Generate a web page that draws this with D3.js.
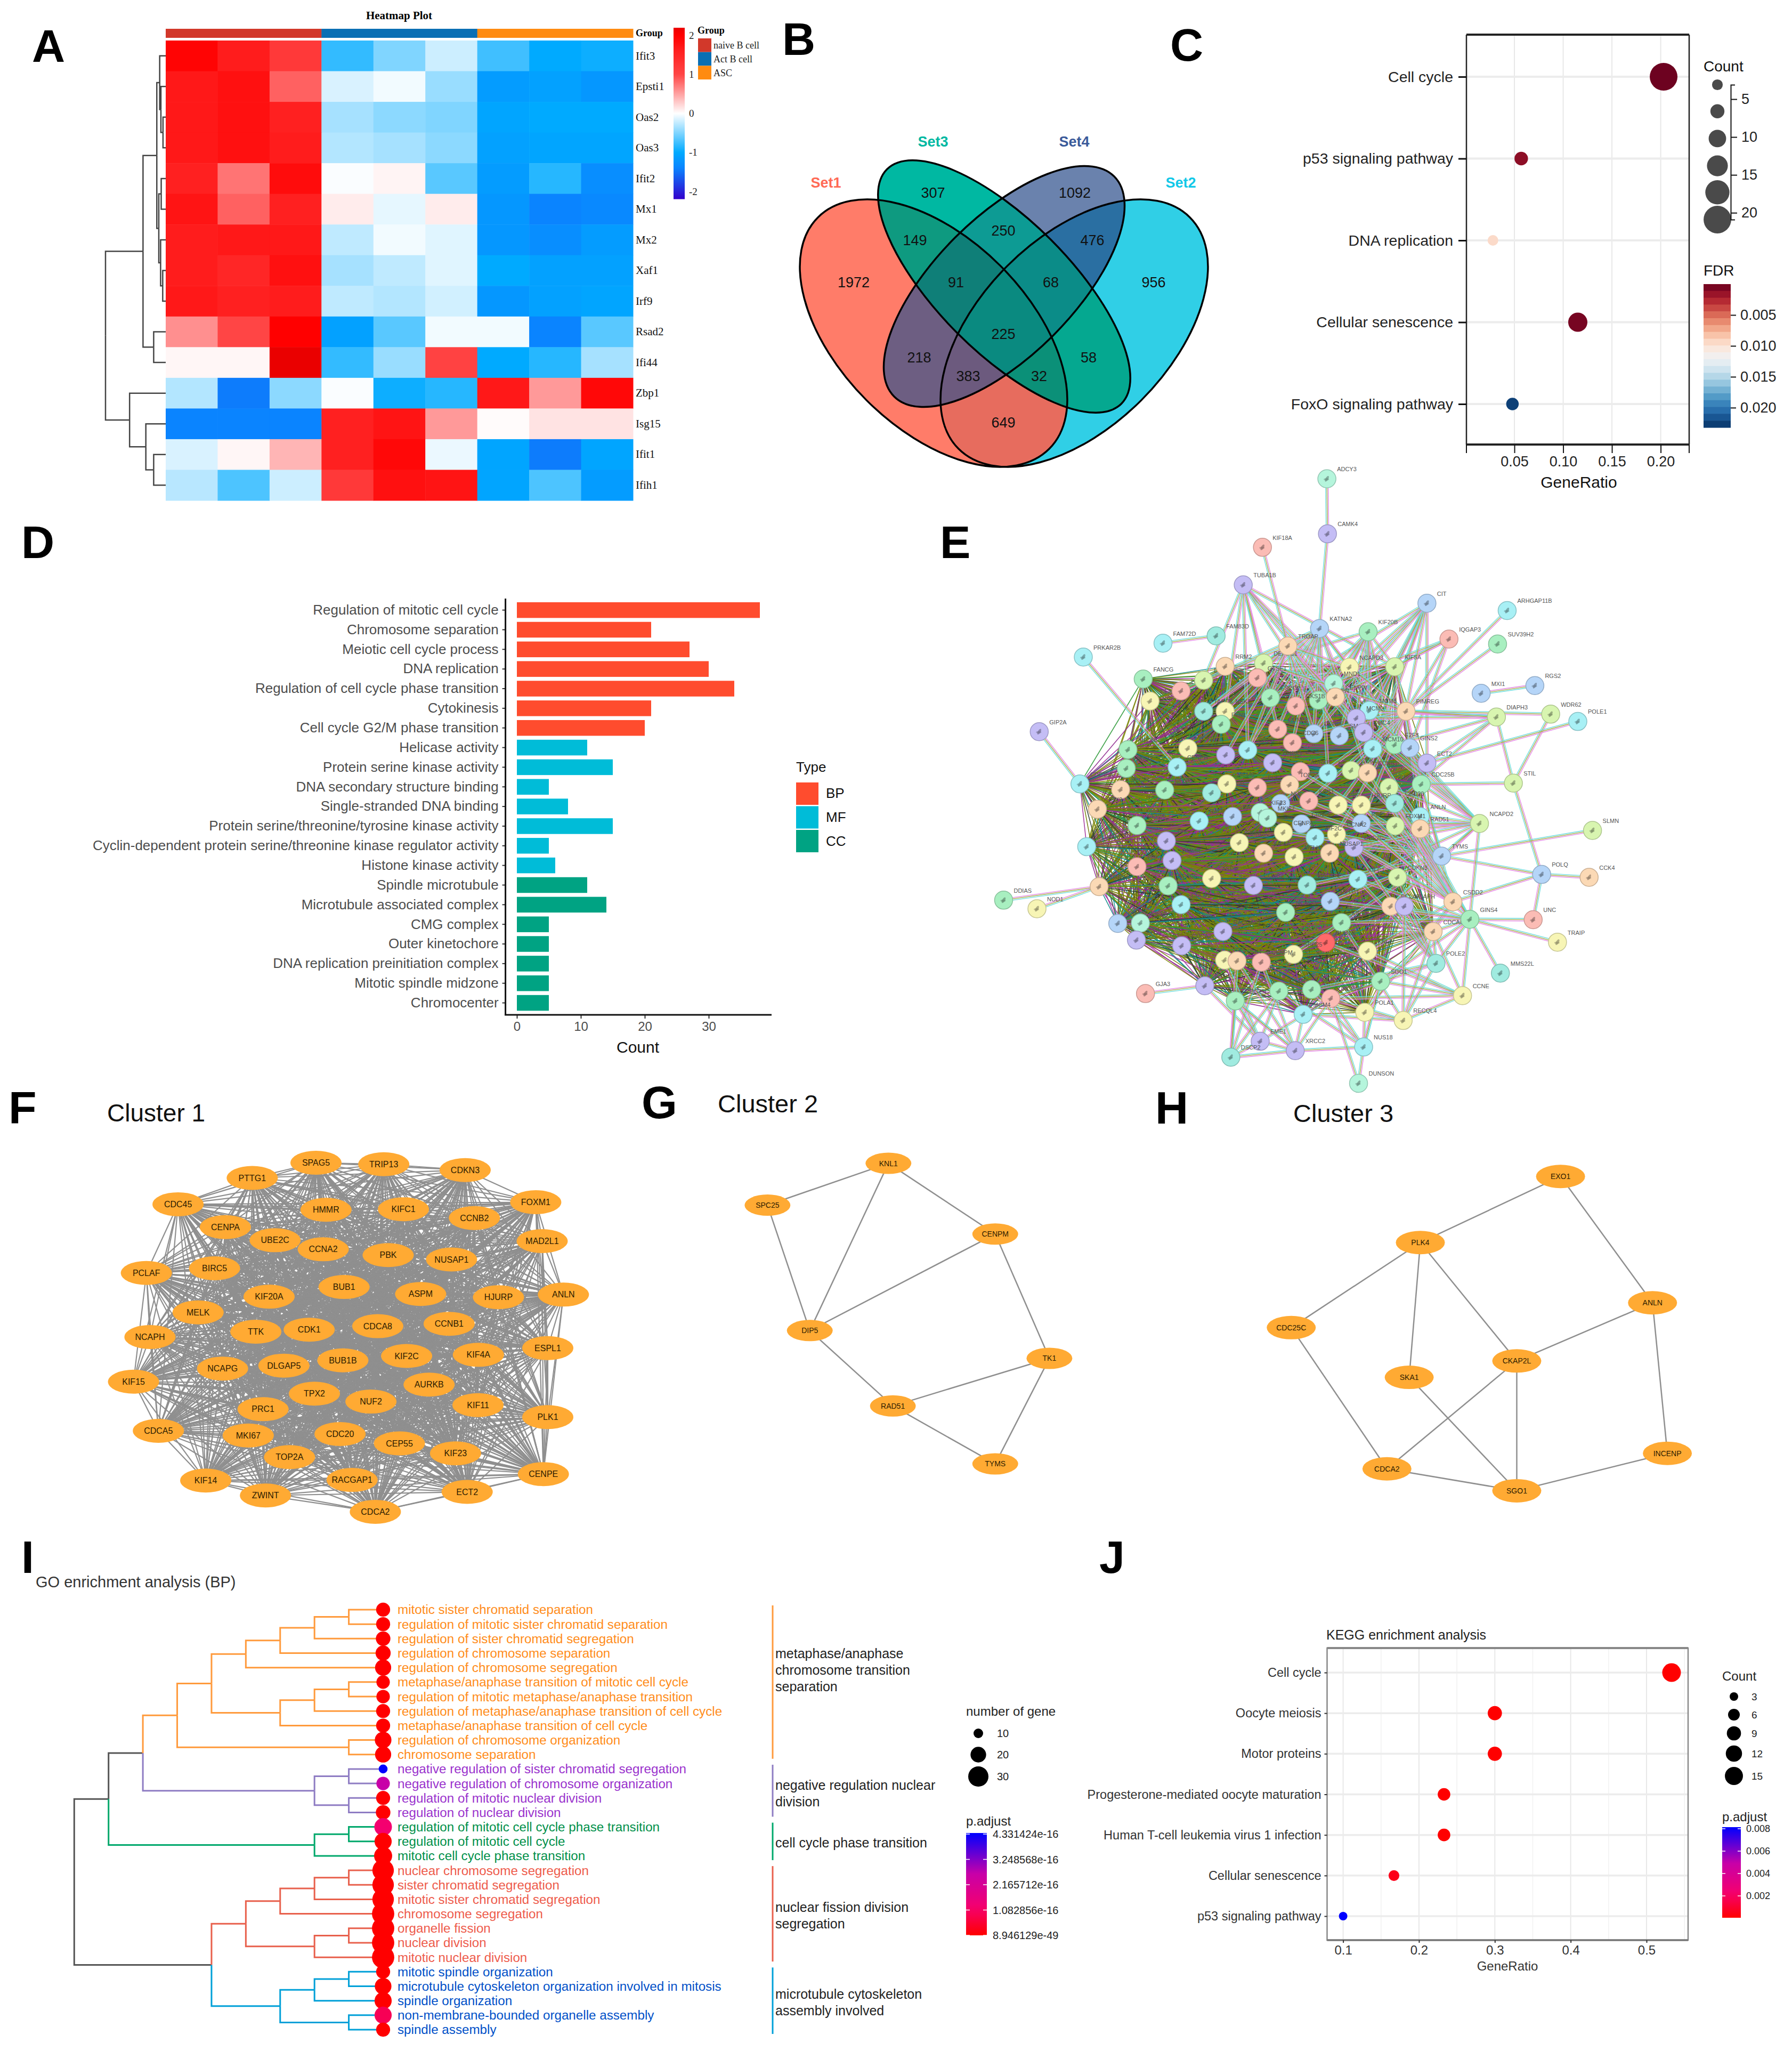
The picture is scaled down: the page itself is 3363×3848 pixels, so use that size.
<!DOCTYPE html>
<html><head><meta charset="utf-8">
<script src="https://cdn.jsdelivr.net/npm/d3@7"></script>
<style>html,body{margin:0;padding:0;background:#fff}svg{display:block}</style></head>
<body><script>
// ---------- A heatmap ----------
const heatGenes=["Ifit3","Epsti1","Oas2","Oas3","Ifit2","Mx1","Mx2","Xaf1","Irf9","Rsad2","Ifi44","Zbp1","Isg15","Ifit1","Ifih1"];
const heatSamples=["n1","n2","n3","a1","a2","a3","s1","s2","s3"];
const heatGroups=["naive B cell","Act B cell","ASC"];
const heatValues=[
[1.95,1.65,1.2,-0.8,-0.5,-0.2,-0.75,-1.0,-0.95],
[1.7,1.8,0.85,-0.15,-0.05,-0.4,-1.15,-1.1,-1.2],
[1.7,1.8,1.6,-0.35,-0.45,-0.5,-1.05,-1.0,-1.0],
[1.7,1.8,1.65,-0.3,-0.35,-0.45,-1.1,-1.05,-1.05],
[1.6,0.75,1.85,-0.02,0.06,-0.65,-1.15,-0.85,-1.3],
[1.75,0.85,1.6,0.1,-0.1,0.1,-1.2,-1.4,-1.35],
[1.65,1.7,1.7,-0.25,-0.05,-0.12,-1.2,-1.3,-1.15],
[1.65,1.5,1.8,-0.35,-0.25,-0.12,-1.0,-1.1,-1.1],
[1.7,1.6,1.65,-0.25,-0.3,-0.18,-1.2,-1.1,-1.05],
[0.6,1.0,2.0,-1.1,-0.65,-0.05,-0.05,-1.4,-0.65],
[0.05,0.05,2.2,-0.8,-0.4,1.05,-1.0,-0.85,-0.35],
[-0.3,-1.45,-0.45,-0.02,-0.95,-0.85,1.7,0.55,1.9],
[-1.4,-1.4,-1.4,1.6,1.75,0.55,0.02,0.15,0.15],
[-0.15,0.05,0.4,1.6,1.9,-0.08,-1.05,-1.45,-1.05],
[-0.28,-0.7,-0.2,1.2,1.8,1.75,-1.05,-0.7,-1.15]];
const heatTree=[1,[0.377,[0.148,[0.1,"Ifit3",[0.08,"Epsti1",[0.045,"Oas2","Oas3"]]],[0.115,[0.075,"Ifit2","Mx1"],[0.085,"Mx2",[0.05,"Xaf1","Irf9"]]]],[0.2,"Rsad2","Ifi44"]],[0.6,"Zbp1",[0.33,"Isg15",[0.2,"Ifit1","Ifih1"]]]];
// ---------- B venn ----------
const vennSets=["Set1","Set2","Set3","Set4"];
const vennCounts=[["1",1972],["2",956],["3",307],["4",1092],["13",149],["34",250],["24",476],["134",91],["234",68],["1234",225],["14",218],["23",58],["124",383],["123",32],["12",649]];
// ---------- C dot plot ----------
const cTerms=["Cell cycle","p53 signaling pathway","DNA replication","Cellular senescence","FoxO signaling pathway"];
const cRatio=[0.203,0.057,0.028,0.115,0.048];
const cCount=[21,6,3,12,5];
const cFdr=[0.0002,0.0012,0.0095,0.0005,0.0225];
const cCountTicks=[5,10,15,20];
const cCountLegend=[3.1,6.6,10.2,13.8,17.3,20.9];
const cFdrTicks=[0.005,0.01,0.015,0.02];
// ---------- D bars ----------
const dTerms=["Regulation of mitotic cell cycle","Chromosome separation","Meiotic cell cycle process","DNA replication","Regulation of cell cycle phase transition","Cytokinesis","Cell cycle G2/M phase transition","Helicase activity","Protein serine kinase activity","DNA secondary structure binding","Single-stranded DNA binding","Protein serine/threonine/tyrosine kinase activity","Cyclin-dependent protein serine/threonine kinase regulator activity","Histone kinase activity","Spindle microtubule","Microtubule associated complex","CMG complex","Outer kinetochore","DNA replication preinitiation complex","Mitotic spindle midzone","Chromocenter"];
const dCounts=[38,21,27,30,34,21,20,11,15,5,8,15,5,6,11,14,5,5,5,5,5];
const dTypes=["BP","BP","BP","BP","BP","BP","BP","MF","MF","MF","MF","MF","MF","MF","CC","CC","CC","CC","CC","CC","CC"];
const dTypeNames=["BP","MF","CC"];
// ---------- E STRING network (positions in picture units) ----------
const eOuter=[["ADCY3",745,50,"m"],["CAMK4",746,185,"p"],["KIF18A",631,218,"k"],["TUBA1B",597,310,"p"],["CIT",922,355,"b"],["ARHGAP11B",1064,373,"c"],["KIF20B",818,425,"g"],["KATNA2",732,417,"b"],["IQGAP3",961,443,"k"],["SUV39H2",1047,455,"g"],["FAM83D",549,435,"t"],["FAM72D",455,453,"c"],["PRKAR2B",314,487,"c"],["TROAP",676,460,"e"],["MXI1",1018,576,"b"],["RGS2",1113,557,"b"],["PIMREG",885,620,"e"],["DIAPH3",1045,634,"l"],["WDR62",1141,627,"l"],["POLE1",1189,645,"c"],["GIP2A",236,670,"p"],["STIL",1075,796,"l"],["NCAPD2",1015,895,"l"],["TYMS",948,975,"b"],["SLMN",1215,912,"l"],["POLQ",1125,1020,"b"],["CCK4",1209,1027,"e"],["UNC",1110,1131,"k"],["TRAIP",1153,1186,"y"],["CSDD2",968,1087,"e"],["GINS4",998,1130,"g"],["MMS22L",1052,1262,"t"],["CCNE",985,1317,"y"],["POLE2",938,1238,"t"],["RECQL4",880,1378,"y"],["NUS18",810,1443,"c"],["DUNSON",801,1532,"m"],["XRCC2",689,1452,"p"],["EME1",627,1429,"p"],["DSCP2",575,1468,"t"],["GJA3",424,1312,"k"],["DDIAS",173,1083,"g"],["NOD1",232,1104,"y"]];
const eCore=[["FANCG",420,541,"g"],["CENPK",432,595,"y"],["HMGB2",487,570,"k"],["DTL",527,544,"l"],["RRM2",565,510,"e"],["DEPDC1",633,502,"l"],["GTSE1",622,538,"k"],["NCAPD3",785,512,"y"],["KIF5A",865,511,"l"],["MND1",757,552,"m"],["ESCO2",645,587,"g"],["CENPN",730,593,"g"],["CENPW",760,585,"e"],["CKS1B",690,607,"k"],["MCM5",820,618,"c"],["MCM2",797,637,"p"],["TACC3",527,620,"t"],["NEK2",565,620,"y"],["FEN1",558,652,"g"],["CCNE2",658,664,"k"],["CENPF",722,675,"b"],["SMC2",767,680,"b"],["SMC4",810,672,"p"],["CDC6",684,697,"k"],["E2F8",865,702,"g"],["GINS2",892,710,"b"],["MCM10",826,712,"c"],["TCF19",499,711,"y"],["KIF18B",393,714,"g"],["SKA3",566,727,"p"],["ORC6",605,715,"c"],["ECT2",922,747,"p"],["SGO2",390,760,"g"],["CENPH",480,757,"c"],["CHEK1",649,746,"p"],["AURKB",698,768,"k"],["BUB1",747,772,"c"],["CDK1",788,765,"l"],["CCNB1",817,771,"e"],["CDC25A",308,798,"c"],["SPC24",380,812,"e"],["CENPI",458,813,"g"],["ZWILCH",541,820,"t"],["MCM6",568,798,"y"],["PLK1",622,807,"k"],["TOP2A",679,800,"e"],["CDC7",855,807,"l"],["CDC25B",912,799,"g"],["TPX2",339,860,"e"],["NUF2",663,846,"b"],["KIF11",713,840,"k"],["PRC1",765,850,"y"],["HJURP",806,850,"y"],["CDC20",865,846,"t"],["CEP55",409,900,"g"],["RAD54L",519,889,"c"],["BRCA1",578,878,"b"],["KIF23",627,868,"m"],["MKI67",640,882,"m"],["ANLN",910,878,"c"],["RAD51",910,908,"e"],["CENPE",700,896,"b"],["ESPL1",806,895,"b"],["FOXM1",866,901,"l"],["CENPA",668,917,"y"],["CCNA2",762,922,"y"],["DLGAP5",320,952,"c"],["TTK",461,938,"p"],["BIRC5",590,942,"y"],["KIF2C",724,930,"c"],["UBE2C",793,954,"p"],["KIF4A",633,968,"e"],["MELK",687,977,"y"],["NUSAP1",750,968,"e"],["PBK",409,1001,"k"],["HMMR",471,986,"p"],["ASPM",541,1030,"y"],["CCNB2",615,1047,"p"],["MAD2L1",710,1046,"t"],["KIFC1",800,1032,"c"],["CDKN3",870,1027,"l"],["TRIP13",342,1050,"e"],["SPAG5",464,1048,"g"],["PTTG1",751,1086,"b"],["CDC45",487,1094,"c"],["PCLAF",858,1098,"e"],["NCAPH",882,1098,"p"],["NCAPG",672,1113,"g"],["KIF15",771,1138,"g"],["CDCA5",375,1140,"b"],["KIF14",415,1139,"m"],["ZWINT",408,1181,"p"],["RACGAP1",561,1160,"p"],["CDCA2",488,1195,"p"],["BUB1B",743,1187,"r"],["CDCA8",933,1160,"e"],["KNL1",817,1208,"y"],["SPC25",686,1216,"y"],["CENPM",629,1235,"k"],["TK1",564,1230,"y"],["PLK4",586,1232,"e"],["EXO1",529,1293,"p"],["CDC25C",583,1330,"g"],["CKAP2L",660,1306,"g"],["SKA1",718,1302,"g"],["INCENP",752,1324,"k"],["SGO1",840,1282,"g"],["POLA1",812,1358,"y"],["MCM4",703,1363,"c"]];
const eOuterPairs=[["ADCY3","CAMK4"],["CAMK4","KATNA2"],["KIF18A","TROAP"],["FAM83D","FAM72D"],["MXI1","RGS2"],["DDIAS","TRIP13"],["NOD1","TRIP13"],["CCK4","POLQ"],["UNC","POLQ"],["UNC","GINS4"],["TRAIP","GINS4"],["STIL","POLQ"],["STIL","DIAPH3"],["WDR62","STIL"],["WDR62","PIMREG"],["DIAPH3","PIMREG"],["POLE1","ECT2"],["STIL","CDC25B"],["SLMN","TYMS"],["POLQ","TYMS"],["POLQ","CSDD2"],["GINS4","NCAPD2"],["MMS22L","GINS4"],["CCNE","GINS4"],["POLE2","GINS4"],["RECQL4","CCNE"],["RECQL4","POLE2"],["NUS18","DUNSON"],["NUS18","XRCC2"],["XRCC2","DSCP2"],["EME1","DSCP2"],["EME1","XRCC2"],["DSCP2","CDC25C"],["EME1","CDC25C"],["XRCC2","CDC25C"],["NUS18","SGO1"],["NUS18","INCENP"],["DUNSON","INCENP"],["CCNE","SGO1"],["GJA3","EXO1"],["GIP2A","CDC25A"],["PRKAR2B","CENPH"],["IQGAP3","PIMREG"],["NCAPD2","TYMS"],["CIT","PIMREG"],["SUV39H2","PIMREG"],["ARHGAP11B","PIMREG"]];
const eOuterFans=[["TUBA1B",10,3],["CIT",10,2],["KIF20B",14,1],["KATNA2",16,2],["IQGAP3",4,3],["TROAP",14,2],["PIMREG",14,3],["DIAPH3",5,3],["TYMS",16,3],["NCAPD2",14,2],["CSDD2",14,2],["GINS4",10,2],["POLE2",8,2],["CCNE",4,3],["RECQL4",6,2],["NUS18",4,2],["XRCC2",5,2],["EME1",5,2],["DSCP2",4,2]];
// ---------- F G H clusters (positions in picture units) ----------
const f1Nodes=[["SPAG5",788,258],["TRIP13",957,263],["CDKN3",1160,283],["PTTG1",629,310],["FOXM1",1336,393],["CDC45",444,400],["HMMR",813,419],["KIFC1",1006,417],["CCNB2",1183,447],["CENPA",562,478],["UBE2C",686,523],["MAD2L1",1352,526],["CCNA2",806,554],["PBK",968,574],["NUSAP1",1126,589],["BIRC5",535,619],["PCLAF",365,635],["BUB1",858,683],["KIF20A",671,716],["ASPM",1049,707],["HJURP",1243,718],["ANLN",1405,709],["MELK",494,770],["TTK",638,836],["CDK1",771,829],["CDCA8",942,817],["CCNB1",1120,809],["NCAPH",374,854],["ESPL1",1366,892],["KIF2C",1014,919],["KIF4A",1193,915],["BUB1B",855,934],["DLGAP5",708,952],["NCAPG",555,962],["KIF15",333,1007],["AURKB",1070,1017],["TPX2",784,1048],["NUF2",925,1075],["KIF11",1192,1087],["PRC1",656,1101],["PLK1",1366,1128],["CDCA5",395,1175],["MKI67",619,1191],["CDC20",848,1186],["CEP55",996,1218],["KIF23",1136,1252],["TOP2A",722,1265],["CENPE",1355,1323],["KIF14",513,1345],["RACGAP1",878,1343],["ECT2",1165,1384],["ZWINT",662,1396],["CDCA2",936,1452]];
const g2Nodes=[["KNL1",350,260],["SPC25",187,403],["CENPM",494,502],["DIP5",244,832],["TK1",567,927],["RAD51",356,1090],["TYMS",494,1288]];
const g2Edges=[["KNL1","SPC25"],["KNL1","DIP5"],["KNL1","CENPM"],["SPC25","DIP5"],["CENPM","DIP5"],["CENPM","TK1"],["DIP5","RAD51"],["RAD51","TK1"],["TK1","TYMS"],["RAD51","TYMS"]];
const h3Nodes=[["EXO1",1256,305],["PLK4",1067,531],["ANLN",1380,737],["CDC25C",893,822],["CKAP2L",1197,936],["SKA1",1052,992],["INCENP",1400,1252],["CDCA2",1022,1305],["SGO1",1197,1380]];
const h3Edges=[["EXO1","PLK4"],["EXO1","ANLN"],["PLK4","CDC25C"],["PLK4","SKA1"],["PLK4","CKAP2L"],["ANLN","CKAP2L"],["ANLN","INCENP"],["CDC25C","CDCA2"],["CKAP2L","CDCA2"],["CKAP2L","SGO1"],["SKA1","SGO1"],["CDCA2","SGO1"],["INCENP","SGO1"]];
// ---------- I GO tree ----------
const iTerms=["mitotic sister chromatid separation","regulation of mitotic sister chromatid separation","regulation of sister chromatid segregation","regulation of chromosome separation","regulation of chromosome segregation","metaphase/anaphase transition of mitotic cell cycle","regulation of mitotic metaphase/anaphase transition","regulation of metaphase/anaphase transition of cell cycle","metaphase/anaphase transition of cell cycle","regulation of chromosome organization","chromosome separation","negative regulation of sister chromatid segregation","negative regulation of chromosome organization","regulation of mitotic nuclear division","regulation of nuclear division","regulation of mitotic cell cycle phase transition","regulation of mitotic cell cycle","mitotic cell cycle phase transition","nuclear chromosome segregation","sister chromatid segregation","mitotic sister chromatid segregation","chromosome segregation","organelle fission","nuclear division","mitotic nuclear division","mitotic spindle organization","microtubule cytoskeleton organization involved in mitosis","spindle organization","non-membrane-bounded organelle assembly","spindle assembly"];
const iGenes=[17,17,18,19,21,16,16,17,17,22,21,9,16,17,18,24,23,25,33,33,33,35,35,35,35,17,22,23,23,17];
const iPadj=[0,0,0,0,0,0,0,0,0,0,0,4.33,2.6,0,0,1.2,0,0,0,0,0,0,0,0,0,0,0,0,0.9,0];
const iOrange=[6,[5,[4,[3,[2,[1,0,1],2],3],4],[3,[2,[1,5,6],7],8]],[1,9,10]];
const iPurple=[2,[1,11,12],[1,13,14]];
const iGreen=[2,[1,15,16],17];
const iRed=[4,[3,[2,[1,18,19],20],21],[2,[1,22,23],24]];
const iBlue=[3,[2,[1,25,26],27],[1,28,29]];
const iRoot=[9,[8,[7,iOrange,iPurple],iGreen],[5,iRed,iBlue]];
const iClades=[["metaphase/anaphase","chromosome transition","separation"],["negative regulation nuclear","division"],["cell cycle phase transition"],["nuclear fission division","segregation"],["microtubule cytoskeleton","assembly involved"]];
const iGeneLegend=[10,20,30];
const iPadjTicks=[["4.331424e-16",4.331424],["3.248568e-16",3.248568],["2.165712e-16",2.165712],["1.082856e-16",1.082856],["8.946129e-49",0]];
// ---------- J dot plot ----------
const jTerms=["Cell cycle","Oocyte meiosis","Motor proteins","Progesterone-mediated oocyte maturation","Human T-cell leukemia virus 1 infection","Cellular senescence","p53 signaling pathway"];
const jRatio=[0.533,0.3,0.3,0.233,0.233,0.167,0.1];
const jCount=[16,9,9,7,7,5,3];
const jPadj=[0,0,0,0,0,0.0005,0.008];
const jCountLegend=[3,6,9,12,15];
const jPadjTicks=[0.008,0.006,0.004,0.002];
const panelLetters=[["A",60,116],["B",1468,103],["C",2196,114],["D",40,1047],["E",1764,1047],["F",16,2108],["G",1204,2098],["H",2168,2108],["I",40,2951],["J",2063,2951]];

const SANS='"Liberation Sans",Arial,sans-serif',SERIF='"Liberation Serif",serif';
const svg=d3.select("body").append("svg").attr("width",3363).attr("height",3848).attr("viewBox","0 0 3363 3848");
svg.append("rect").attr("width",3363).attr("height",3848).attr("fill","#fff");
const defs=svg.append("defs");
function T(g,x,y,s,o={}){return g.append("text").attr("x",x).attr("y",y).attr("dy",".35em").attr("text-anchor",o.a||"start").attr("font-size",o.s||24).attr("font-weight",o.w||400).attr("fill",o.f||"#000").attr("font-family",o.ff||SANS).text(s);}
function styleAxis(sel,o={}){sel.selectAll("text").attr("font-size",o.s||24).attr("font-family",o.ff||SANS).attr("font-weight",o.w||400).attr("fill",o.f||"#333");sel.selectAll("line").attr("stroke",o.l||"#333").attr("stroke-width",o.lw||2);if(o.noDomain)sel.select(".domain").remove();else sel.select(".domain").attr("stroke",o.l||"#333").attr("stroke-width",o.lw||2);}
function vGrad(id,scale,tops){const g=defs.append("linearGradient").attr("id",id).attr("x1",0).attr("y1",0).attr("x2",0).attr("y2",1);tops.forEach((v,i)=>g.append("stop").attr("offset",i/(tops.length-1)).attr("stop-color",scale(v)));}
const L=(g,x1,y1,x2,y2,c,w)=>g.append("line").attr("x1",x1).attr("y1",y1).attr("x2",x2).attr("y2",y2).attr("stroke",c).attr("stroke-width",w);
const padjRamp=d3.scaleLinear([0,0.27,0.6,1],["#ff0000","#f5006e","#c800a8","#0000ff"]);

panelLetters.forEach(d=>svg.append("text").attr("x",d[1]).attr("y",d[2]).attr("font-size",86).attr("font-weight",700).attr("font-family",SANS).attr("fill","#000").text(d[0]));

// ===== A =====
(function(){
const g=svg.append("g");
const x=d3.scaleBand(heatSamples,[311,1188]),y=d3.scaleBand(heatGenes,[76,939]);
const col=d3.scaleLinear().domain([-2.2,-1.4,-1,0,1,1.6,2,2.2]).range(["#3300cc","#0a84ff","#00aaff","#ffffff","#ff4545","#ff2020","#ff0000","#ea0000"]).clamp(true);
heatValues.forEach((row,i)=>row.forEach((v,j)=>g.append("rect").attr("x",x(heatSamples[j])).attr("y",y(heatGenes[i])).attr("width",x.bandwidth()+.5).attr("height",y.bandwidth()+.5).attr("fill",col(v))));
const gc=["#D2382A","#0A6FB4","#FF8B11"];
gc.forEach((c,i)=>g.append("rect").attr("x",x(heatSamples[i*3])).attr("y",54).attr("width",3*x.bandwidth()+.5).attr("height",17).attr("fill",c));
T(g,749,29,"Heatmap Plot",{a:"middle",s:21,w:700,ff:SERIF});
T(g,1193,62,"Group",{s:18,w:700,ff:SERIF});
const ax=g.append("g").attr("transform","translate(1188,0)").call(d3.axisRight(y).tickSize(0).tickPadding(5));
styleAxis(ax,{s:21,ff:SERIF,f:"#111",noDomain:true});
const dx=d3.scaleLinear([0,1],[311,198]);
const root=d3.hierarchy(heatTree,d=>Array.isArray(d)?d.slice(1):null);
root.eachAfter(n=>{if(n.children){n.px=dx(n.data[0]);n.py=(n.children[0].py+n.children[n.children.length-1].py)/2;}else{n.px=dx(0);n.py=y(n.data)+y.bandwidth()/2;}});
root.descendants().slice(1).forEach(n=>g.append("path").attr("fill","none").attr("stroke","#444").attr("stroke-width",2.5).attr("d",`M${n.parent.px},${n.parent.py}V${n.py}H${n.px}`));
const ly=d3.scaleLinear([2,-2],[66,359]);
vGrad("heatG",col,d3.range(2.2,-2.21,-0.2));
g.append("rect").attr("x",1264).attr("y",ly(2.19)).attr("width",21).attr("height",ly(-2.2)-ly(2.19)).attr("fill","url(#heatG)");
[2,1,0,-1,-2].forEach(v=>T(g,1293,ly(v),v,{s:19,ff:SERIF,f:"#222"}));
T(g,1309,57,"Group",{s:18,w:700,ff:SERIF});
heatGroups.forEach((n,i)=>{g.append("rect").attr("x",1310).attr("y",72+i*25.7).attr("width",25).attr("height",25.7).attr("fill",gc[i]);T(g,1339,85+i*25.7,n,{s:18,ff:SERIF,f:"#222"});});
})();

// ===== B =====
(function(){
const g=svg.append("g");
const ell=[{cx:1752,cy:625,a:307,b:178,r:45},{cx:2016,cy:625,a:307,b:178,r:-45},{cx:1884.5,cy:537.5,a:311,b:124,r:45},{cx:1884.5,cy:537.5,a:292,b:130,r:-45}];
const regionColors={"1":"#FF7C69","2":"#30CFE6","3":"#00B8A2","4":"#6A82AD","13":"#0E9A80","34":"#0D9B94","24":"#2A6FA2","12":"#E76C5E","14":"#6D5E82","23":"#05A890","134":"#0F7F78","234":"#0B8C88","124":"#6C5A7E","123":"#0B9078","1234":"#0A8A80"};
const pos={"1":[1602,530],"2":[2165,530],"3":[1751,362],"4":[2017,362],"13":[1717,451],"34":[1883,433],"24":[2050,451],"134":[1794,530],"234":[1972,530],"1234":[1883,627],"14":[1725,671],"23":[2043,671],"124":[1817,706],"123":[1950,706],"12":[1883,793]};
const addE=(s,e)=>s.append("ellipse").attr("cx",e.cx).attr("cy",e.cy).attr("rx",e.a).attr("ry",e.b).attr("transform",`rotate(${e.r} ${e.cx} ${e.cy})`);
ell.forEach((e,i)=>addE(defs.append("clipPath").attr("id","vc"+(i+1)),e));
Object.keys(regionColors).sort((a,b)=>a.length-b.length).forEach(k=>{let p=g;k.split("").forEach(c=>{p=p.append("g").attr("clip-path",`url(#vc${c})`);});p.append("rect").attr("x",1450).attr("y",280).attr("width",860).attr("height",620).attr("fill",regionColors[k]);});
ell.forEach(e=>addE(g,e).attr("fill","none").attr("stroke","#000").attr("stroke-width",3.5));
vennCounts.forEach(d=>T(g,pos[d[0]][0],pos[d[0]][1],d[1],{a:"middle",s:27,f:"#111"}));
[["Set1",1550,343,"#FF6A55"],["Set2",2216,343,"#12C8E8"],["Set3",1751,266,"#00B8A2"],["Set4",2016,266,"#3A5A9A"]].forEach(d=>T(g,d[1],d[2],d[0],{a:"middle",s:27,w:700,f:d[3]}));
})();

// ===== C =====
(function(){
const g=svg.append("g");
const x=d3.scaleLinear([0.0008,0.2292],[2752,3170]),y=d3.scalePoint(cTerms,[144,758]);
const r=d3.scaleLinear([3,21],[10,26]);
const col=d3.scaleLinear([0,0.0232],[0,1]);
const fdr=v=>d3.interpolateRdBu(col(v));
[0.05,0.1,0.15,0.2].forEach(v=>L(g,x(v),66,x(v),834,"#e8e8e8",2));
cTerms.forEach(t=>L(g,2752,y(t),3170,y(t),"#ececec",4));
cTerms.forEach((t,i)=>g.append("circle").attr("cx",x(cRatio[i])).attr("cy",y(t)).attr("r",r(cCount[i])).attr("fill",fdr(cFdr[i])));
L(g,2752,65,3170,65,"#222",4);L(g,2752,834,3170,834,"#222",4);L(g,2752,65,2752,834,"#222",2.5);L(g,3170,65,3170,834,"#222",2.5);
const ay=g.append("g").attr("transform","translate(2752,0)").call(d3.axisLeft(y).tickSize(15).tickPadding(10));
styleAxis(ay,{s:28.5,f:"#222",l:"#111",lw:3,noDomain:true});
const ax=g.append("g").attr("transform","translate(0,834)").call(d3.axisBottom(x).tickValues([0.05,0.1,0.15,0.2]).tickFormat(d3.format(".2f")).tickSize(16).tickPadding(6));
styleAxis(ax,{s:27,f:"#222",l:"#111",lw:2,noDomain:true});
L(g,2752,834,2752,850,"#111",2);L(g,3170,834,3170,850,"#111",2);
T(g,2963,904,"GeneRatio",{a:"middle",s:30,f:"#111"});
T(g,3197,124,"Count",{s:28,f:"#111"});
const ly=d3.scaleLinear([3.1,20.9],[159,412]);
cCountLegend.forEach(v=>g.append("circle").attr("cx",3223).attr("cy",ly(v)).attr("r",r(v)).attr("fill","#4a4a4a"));
const al=g.append("g").attr("transform","translate(3248,0)").call(d3.axisRight(ly).tickValues(cCountTicks).tickSize(12).tickSizeOuter(8).tickPadding(8));
styleAxis(al,{s:27,f:"#222",l:"#111",lw:2});
T(g,3197,507,"FDR",{s:28,f:"#111"});
const fy=d3.scaleLinear([0,0.0232],[533,802]);
const bands=d3.range(0,21);
bands.forEach(b=>g.append("rect").attr("x",3197).attr("y",fy(b/21*0.0232)).attr("width",51).attr("height",fy(0.0232/21)-fy(0)+.6).attr("fill",fdr((b+.5)/21*0.0232)));
const af=g.append("g").attr("transform","translate(3248,0)").call(d3.axisRight(fy).tickValues(cFdrTicks).tickFormat(d3.format(".3f")).tickSize(10).tickSizeOuter(6).tickPadding(8));
styleAxis(af,{s:27,f:"#222",l:"#111",lw:2,noDomain:true});
})();

// ===== D =====
(function(){
const g=svg.append("g");
const x=d3.scaleLinear([0,40],[970,1450]);
const y=d3.scaleBand(dTerms,[1126.2,1900]).paddingInner(.2).paddingOuter(.1);
const col=d3.scaleOrdinal(dTypeNames,["#FF4C2E","#00BCD8","#00A383"]);
dTerms.forEach((t,i)=>g.append("rect").attr("x",x(0)).attr("y",y(t)).attr("width",x(dCounts[i])-x(0)).attr("height",y.bandwidth()).attr("fill",col(dTypes[i])));
const ay=g.append("g").attr("transform","translate(948.6,0)").call(d3.axisLeft(y).tickSize(6).tickPadding(7));
styleAxis(ay,{s:26,f:"#4d4d4d",l:"#333",lw:2,noDomain:true});
const ax=g.append("g").attr("transform","translate(0,1904)").call(d3.axisBottom(x).tickValues([0,10,20,30]).tickSize(7).tickPadding(6));
styleAxis(ax,{s:24,f:"#4d4d4d",l:"#333",lw:2,noDomain:true});
L(g,948.6,1123,948.6,1905,"#111",3);L(g,947,1904,1448,1904,"#111",3);
T(g,1197,1964,"Count",{a:"middle",s:30,f:"#111"});
T(g,1494,1439,"Type",{s:26,f:"#111"});
dTypeNames.forEach((n,i)=>{g.append("rect").attr("x",1494).attr("y",1468+i*44.5).attr("width",42).attr("height",42).attr("fill",col(n));T(g,1550,1488+i*44.7,n,{s:26,f:"#111"});});
})();

// ===== E =====
(function(){
const g=svg.append("g");
const sx=d3.scaleLinear([0,1568],[1700,3363]),sy=d3.scaleLinear([0,1568],[860,2060]);
const fills={m:"#b5f5dc",p:"#c4bdf5",k:"#fbbcb5",b:"#b5d5f8",c:"#a8f0f5",g:"#a8efc0",l:"#d8f5b0",y:"#f7f5b5",e:"#fbd9b5",t:"#a0ebe0",r:"#ff6a6a"};
const nodes=new Map();
const P=d=>({name:d[0],x:sx(d[1]),y:sy(d[2]),h:d[3]});
const core=eCore.map(P),outer=eOuter.map(P);
core.concat(outer).forEach(n=>nodes.set(n.name,n));
const coreCols=["#7f8a08","#8f2a8f","#6f7a06","#2d3a2d","#0f8a8a","#7f8a08","#a0309a","#727d08","#2f9a3a"];
const edges=g.append("g").attr("stroke-opacity",.9);
let c=0;
core.forEach((a,i)=>core.forEach((b,j)=>{if(j<=i)return;const d=Math.hypot(a.x-b.x,a.y-b.y);if(d<400||((i+j)%2===0&&d<540)){c++;L(edges,a.x,a.y,b.x,b.y,coreCols[c%coreCols.length],1.6);}}));
const strands=(a,b)=>{const dx=b.x-a.x,dy=b.y-a.y,l=Math.hypot(dx,dy)||1,nx=-dy/l,ny=dx/l;[["#e58ae5",-2.4],["#a9ad4f",0],["#6fdede",2.4]].forEach(s=>L(edges,a.x+nx*s[1],a.y+ny*s[1],b.x+nx*s[1],b.y+ny*s[1],s[0],1.6));};
eOuterFans.forEach(f=>{const a=nodes.get(f[0]);const sorted=core.slice().sort((p,q)=>Math.hypot(p.x-a.x,p.y-a.y)-Math.hypot(q.x-a.x,q.y-a.y));d3.range(f[1]).forEach(k=>strands(a,sorted[Math.min(k*f[2],sorted.length-1)]));});
eOuterPairs.forEach(p=>strands(nodes.get(p[0]),nodes.get(p[1])));
core.concat(outer).forEach(n=>{
  const f=fills[n.h];
  g.append("circle").attr("cx",n.x).attr("cy",n.y).attr("r",17).attr("fill",f).attr("stroke",d3.color(f).darker(.6)).attr("stroke-width",1.5);
  g.append("ellipse").attr("cx",n.x).attr("cy",n.y).attr("rx",2.6).attr("ry",6).attr("fill",d3.color(f).darker(1.8)).attr("opacity",.6).attr("transform",`rotate(30 ${n.x} ${n.y})`);
  g.append("ellipse").attr("cx",n.x-1).attr("cy",n.y+1).attr("rx",5).attr("ry",2).attr("fill",d3.color(f).darker(1.8)).attr("opacity",.45);
  T(g,n.x+19,n.y-18,n.name,{s:11,f:"#555"});
});
})();

// ===== F, G, H =====
function cluster(nodes,edges,sx,sy,rx,ry,fs,ew){
 const g=svg.append("g"),m=new Map(nodes.map(d=>[d[0],d]));
 edges.forEach(e=>{const a=m.get(e[0]),b=m.get(e[1]);L(g,sx(a[1]),sy(a[2]),sx(b[1]),sy(b[2]),"#8f8f8f",ew);});
 nodes.forEach(d=>{g.append("ellipse").attr("cx",sx(d[1])).attr("cy",sy(d[2])).attr("rx",rx).attr("ry",ry).attr("fill","#FFAA33");T(g,sx(d[1]),sy(d[2]),d[0],{a:"middle",s:fs,f:"#2a1a00"});});
}
const allPairs=[];f1Nodes.forEach((a,i)=>f1Nodes.forEach((b,j)=>{if(j>i)allPairs.push([a[0],b[0]]);}));
cluster(f1Nodes,allPairs,d3.scaleLinear([0,1568],[0,1180]),d3.scaleLinear([0,1568],[2040,2900]),48,22.5,16,2.2);
const sx2=d3.scaleLinear([0,1568],[1180,3363]),sy2=d3.scaleLinear([0,1568],[2040,2900]);
cluster(g2Nodes,g2Edges,sx2,sy2,43,20,14,2.5);
cluster(h3Nodes,h3Edges,sx2,sy2,46,22,14,2.5);
T(svg,201,2088,"Cluster 1",{s:46,f:"#111"});T(svg,1347,2071,"Cluster 2",{s:47,f:"#111"});T(svg,2427,2089,"Cluster 3",{s:47,f:"#111"});

// ===== I =====
(function(){
const g=svg.append("g");
T(g,67,2968,"GO enrichment analysis (BP)",{s:29,f:"#333"});
const x=d3.scaleLinear([0,9],[719,139.3]),y=d3.scalePoint(iTerms,[3020,3808]);
const padjCol=v=>padjRamp(v/4.331424);
const r=d3.scaleSqrt([10,30],[9,19]);
const cladeArrs=[iOrange,iPurple,iGreen,iRed,iBlue];
const lineCols=["#FF9A3C","#8E7CC3","#00A86B","#E8604C","#00A0D8"],textCols=["#FF8C1A","#9A32CD","#00904A","#EE5B4B","#0050C8"];
const root=d3.hierarchy(iRoot,d=>Array.isArray(d)?d.slice(1):null);
root.eachBefore(n=>{const k=cladeArrs.indexOf(n.data);n.clade=k>=0?k:(n.parent?n.parent.clade:undefined);});
root.eachAfter(n=>{if(n.children){n.px=x(n.data[0]);n.py=(n.children[0].py+n.children[n.children.length-1].py)/2;}else{n.px=x(0);n.py=y(iTerms[n.data]);}});
const cladeOf=[];
root.descendants().slice(1).forEach(n=>{if(!n.children)cladeOf[n.data]=n.clade;g.append("path").attr("fill","none").attr("stroke",n.clade===undefined?"#555":lineCols[n.clade]).attr("stroke-width",3).attr("d",`M${n.parent.px},${n.parent.py}V${n.py}H${n.px}`);});
iTerms.forEach((t,i)=>{g.append("circle").attr("cx",x(0)).attr("cy",y(t)).attr("r",r(iGenes[i])).attr("fill",padjCol(iPadj[i]));T(g,746,y(t),t,{s:24.2,f:textCols[cladeOf[i]]});});
const bars=[[0,10],[11,14],[15,17],[18,24],[25,29]];
const labelMid=[3133,3365,3457,3594,3757];
bars.forEach((b,k)=>{const y0=y(iTerms[b[0]])-8,y1=y(iTerms[b[1]])+8;L(g,1450,y0,1450,y1,lineCols[k],3);
 const n=iClades[k].length;iClades[k].forEach((s,j)=>T(g,1455,labelMid[k]+(j-(n-1)/2)*31,s,{s:25,f:"#222"}));});
T(g,1813,3211,"number of gene",{s:24,f:"#222"});
const ly=d3.scaleOrdinal(iGeneLegend,[3252,3292,3333]);
iGeneLegend.forEach(v=>{g.append("circle").attr("cx",1836).attr("cy",ly(v)).attr("r",r(v)).attr("fill","#000");T(g,1871,ly(v),v,{s:20,f:"#222"});});
T(g,1813,3417,"p.adjust",{s:24,f:"#222"});
vGrad("iG",padjCol,d3.range(4.331424,-0.01,-0.433));
const by=d3.scaleLinear([4.331424,0],[3441,3631]);
g.append("rect").attr("x",1813).attr("y",3439).attr("width",39).attr("height",192).attr("fill","url(#iG)");
iPadjTicks.forEach(d=>{L(g,1813,by(d[1]),1820,by(d[1]),"#fff",1.5);L(g,1845,by(d[1]),1852,by(d[1]),"#fff",1.5);T(g,1863,by(d[1]),d[0],{s:20,f:"#222"});});
})();

// ===== J =====
(function(){
const g=svg.append("g");
const x=d3.scaleLinear([0.1,0.5],[2520.6,3090]),y=d3.scalePoint(jTerms,[3138,3595]);
const r=d3.scaleSqrt([3,16],[8,17.5]);
const col=v=>padjRamp(v/0.008);
T(g,2489,3067,"KEGG enrichment analysis",{s:25,f:"#222"});
[0.15,0.25,0.35,0.45,0.55].forEach(v=>{if(x(v)<3168)L(g,x(v),3092,x(v),3640,"#f1f1f1",1.5);});
[0.1,0.2,0.3,0.4,0.5].forEach(v=>L(g,x(v),3092,x(v),3640,"#e8e8e8",2));
jTerms.forEach(t=>L(g,2490.5,y(t),3168,y(t),"#ececec",3.5));
jTerms.forEach((t,i)=>g.append("circle").attr("cx",x(jRatio[i])).attr("cy",y(t)).attr("r",r(jCount[i])).attr("fill",col(jPadj[i])));
g.append("rect").attr("x",2490.5).attr("y",3092).attr("width",677.5).attr("height",548).attr("fill","none").attr("stroke","#888").attr("stroke-width",2.5);
L(g,2490.5,3092,3168,3092,"#888",4);L(g,2490.5,3640,3168,3640,"#777",3.5);
const ay=g.append("g").attr("transform","translate(2490.5,0)").call(d3.axisLeft(y).tickSize(5).tickPadding(6));
styleAxis(ay,{s:23.5,f:"#333",l:"#333",noDomain:true});
const ax=g.append("g").attr("transform","translate(0,3640)").call(d3.axisBottom(x).tickValues([0.1,0.2,0.3,0.4,0.5]).tickFormat(d3.format(".1f")).tickSize(5).tickPadding(5));
styleAxis(ax,{s:24,f:"#333",l:"#333",noDomain:true});
T(g,2829,3689,"GeneRatio",{a:"middle",s:24,f:"#333"});
T(g,3232,3145,"Count",{s:24,f:"#222"});
const ly=d3.scaleOrdinal(jCountLegend,[3183,3217,3252,3290,3332]);
jCountLegend.forEach(v=>{g.append("circle").attr("cx",3254).attr("cy",ly(v)).attr("r",r(v)).attr("fill","#000");T(g,3287,ly(v),v,{s:19,f:"#222"});});
T(g,3232,3409,"p.adjust",{s:24,f:"#222"});
vGrad("jG",col,d3.range(0.008,-0.0001,-0.0008));
const by=d3.scaleLinear([0.008,0.002],[3431,3557]);
g.append("rect").attr("x",3232).attr("y",3428).attr("width",35).attr("height",170).attr("fill","url(#jG)");
jPadjTicks.forEach(v=>{L(g,3232,by(v),3238,by(v),"#fff",1.5);L(g,3261,by(v),3267,by(v),"#fff",1.5);T(g,3277,by(v),d3.format(".3f")(v),{s:18,f:"#222"});});
})();
</script></body></html>
